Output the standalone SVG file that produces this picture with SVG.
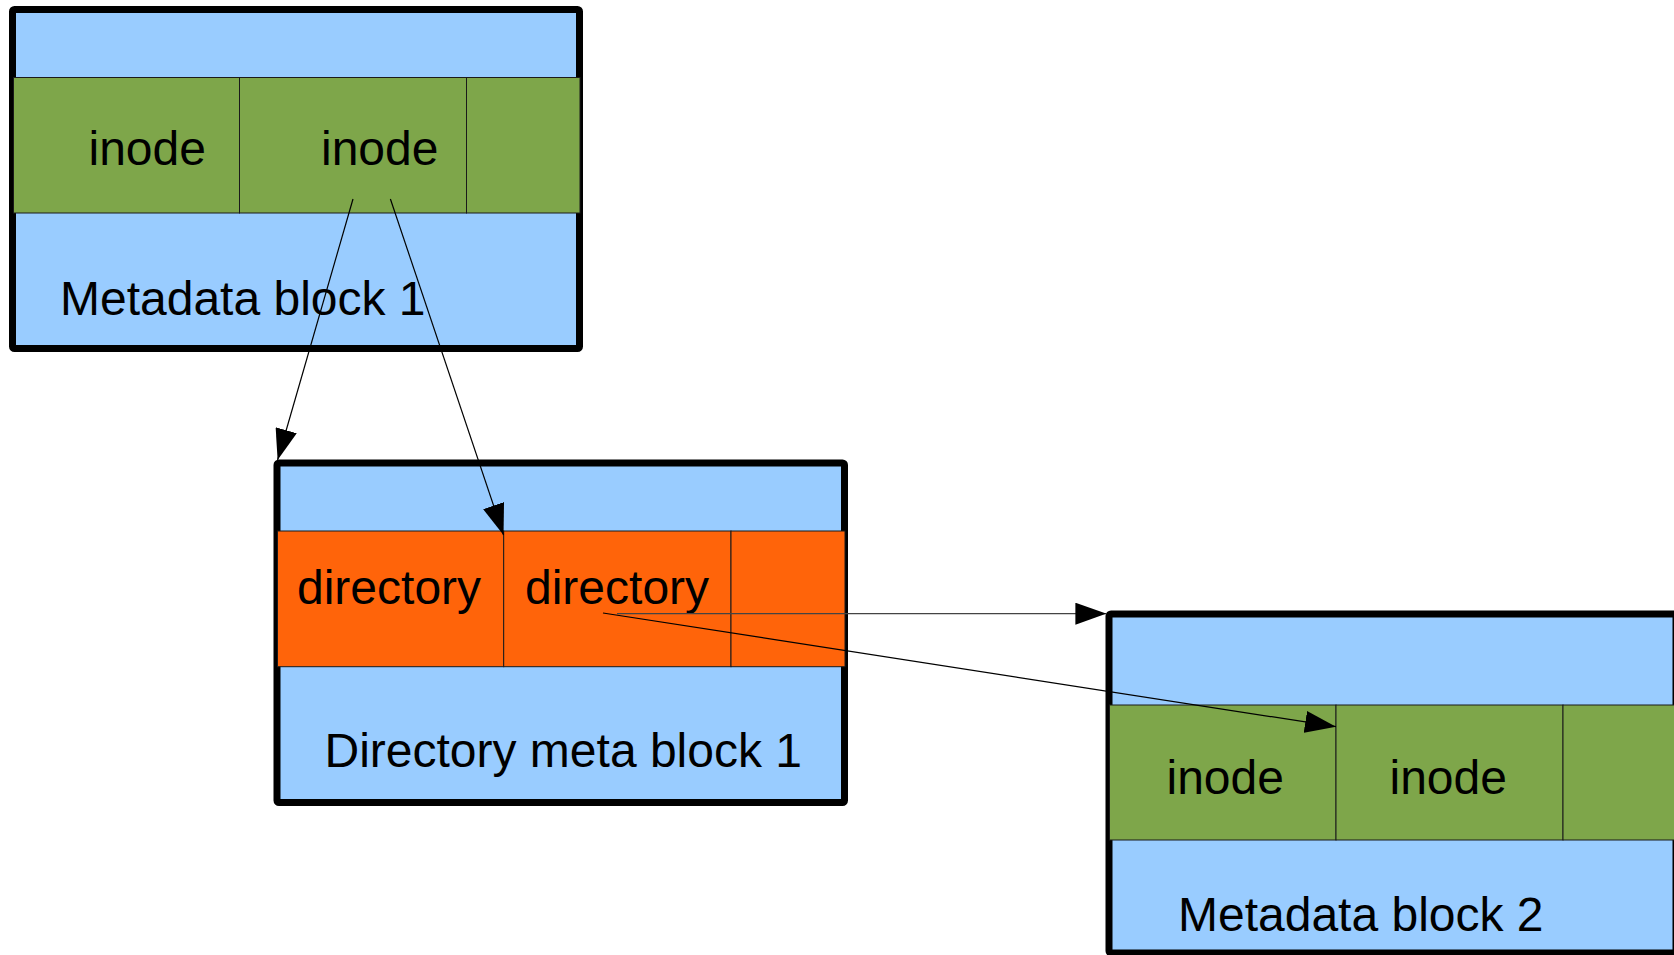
<svg xmlns="http://www.w3.org/2000/svg" width="1674" height="955" viewBox="0 0 1674 955">
<style>
.outer{fill:#99ccff;stroke:#000;stroke-width:7;stroke-linejoin:round}
.g{fill:#7ea64a;stroke:#1a1a1a;stroke-width:1}
.o{fill:#ff640a;stroke:#1a1a1a;stroke-width:1}
text{font-family:"Liberation Sans",Arial,sans-serif;font-size:48px;fill:#000}
.c{stroke:#000;stroke-width:1.2;fill:none}
</style>
<defs>
<marker id="ah" markerUnits="userSpaceOnUse" markerWidth="31" markerHeight="22" viewBox="0 0 31 22" refX="31" refY="11" orient="auto">
<path d="M0,0 L31,11 L0,22 z" fill="#000"/>
</marker>
</defs>
<rect width="1674" height="955" fill="#fff"/>
<g id="metadata-block-1">
<rect class="outer" x="12.5" y="9.5" width="567" height="339" rx="2"/>
<rect class="g" x="13.5" y="77.5" width="226" height="135.5"/>
<rect class="g" x="239.5" y="77.5" width="227" height="135.5"/>
<rect class="g" x="466.5" y="77.5" width="113.5" height="135.5"/>
<text x="88.5" y="165">inode</text>
<text x="321" y="165">inode</text>
<text x="60" y="315">Metadata block 1</text>
</g>
<g id="directory-meta-block-1">
<rect class="outer" x="277" y="463" width="567.5" height="339.5" rx="2"/>
<rect class="o" x="277.5" y="531" width="226.2" height="135.7"/>
<rect class="o" x="503.7" y="531" width="227.3" height="135.7"/>
<rect class="o" x="731" y="531" width="114" height="135.7"/>
<text x="297" y="604">directory</text>
<text x="525" y="604">directory</text>
<text x="324.5" y="767">Directory meta block 1</text>
</g>
<g id="metadata-block-2">
<rect class="outer" x="1109" y="614" width="567" height="339" rx="2"/>
<rect class="g" x="1109.5" y="705" width="226.5" height="135"/>
<rect class="g" x="1336" y="705" width="227" height="135"/>
<rect class="g" x="1563" y="705" width="120" height="135"/>
<text x="1166.5" y="794">inode</text>
<text x="1389.5" y="794">inode</text>
<text x="1178" y="931">Metadata block 2</text>
</g>
<g id="connectors">
<line class="c" x1="353" y1="199" x2="277.6" y2="460" marker-end="url(#ah)"/>
<line class="c" x1="390.4" y1="199" x2="503.5" y2="535" marker-end="url(#ah)"/>
<line class="c" x1="617" y1="613.7" x2="1106.4" y2="613.7" style="stroke:#444" marker-end="url(#ah)"/>
<line class="c" x1="603" y1="613" x2="1336" y2="726.7" marker-end="url(#ah)"/>
</g>
</svg>
